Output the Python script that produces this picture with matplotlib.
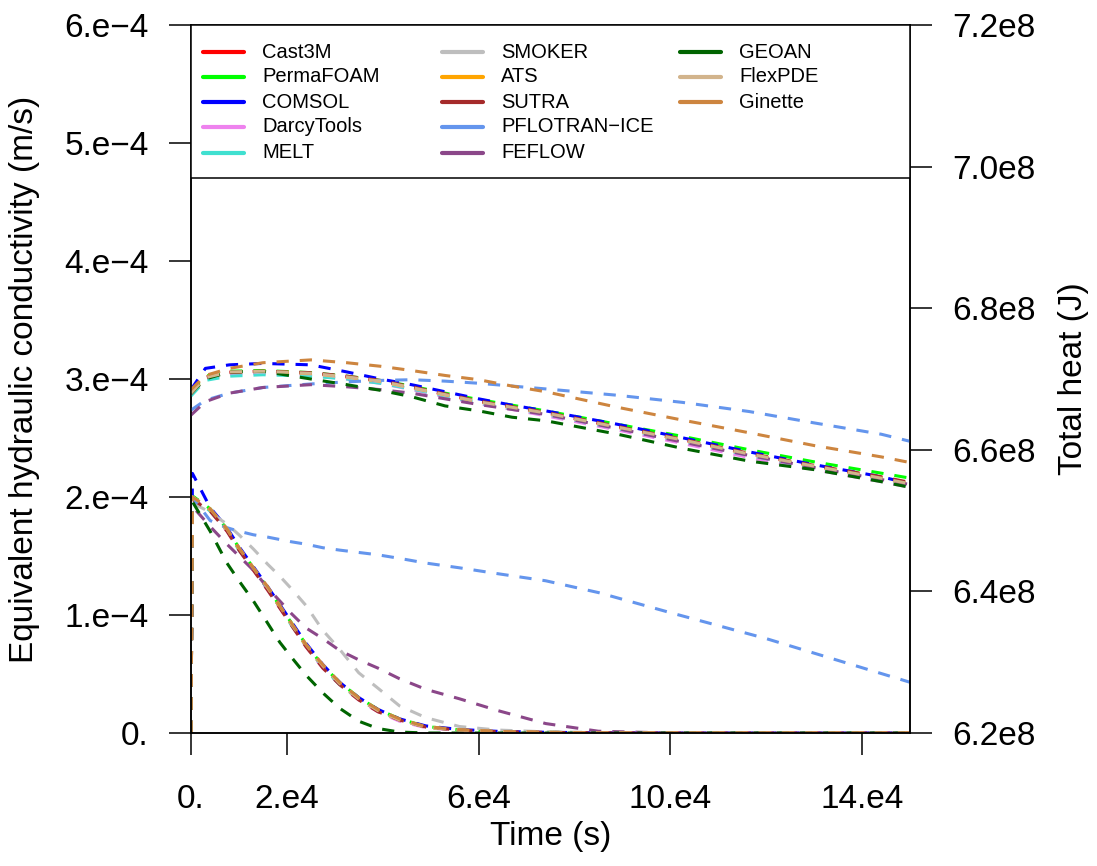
import numpy as np
import matplotlib
matplotlib.use("Agg")
import matplotlib.pyplot as plt
from matplotlib.patches import Rectangle

plt.rcParams['font.family'] = ['Liberation Sans', 'DejaVu Sans']

# model names and colours (legend order: column by column)
models = ["Cast3M", "PermaFOAM", "COMSOL", "DarcyTools", "MELT",
          "SMOKER", "ATS", "SUTRA", "PFLOTRAN\u2212ICE", "FEFLOW",
          "GEOAN", "FlexPDE", "Ginette"]
colors = ["#FF0000", "#00FF00", "#0000FF", "#EE82EE", "#40E0D0",
          "#BEBEBE", "#FFA500", "#A52A2A", "#6495ED", "#8B4789",
          "#006400", "#D2B48C", "#CD853F"]

# time (s) for the hydraulic conductivity curves
t_k = [0, 300, 4000, 7500, 10000, 13000, 16000, 18500, 21000, 24000, 27500,
       31000, 35000, 39000, 43500, 49000, 56000, 64000, 74000, 85000,
       100000, 120000, 150000]
# equivalent hydraulic conductivity (1e-4 m/s)
k_cast3m = [0, 2.00, 1.89, 1.72, 1.56, 1.39, 1.22, 1.07, 0.92, 0.74, 0.56, 0.42, 0.29, 0.19, 0.11, 0.05, 0.025, 0.012, 0.005, 0.002, 0, 0, 0]
k_permafoam = [0, 2.01, 1.90, 1.73, 1.57, 1.40, 1.23, 1.08, 0.93, 0.75, 0.57, 0.43, 0.30, 0.20, 0.12, 0.055, 0.027, 0.013, 0.006, 0.002, 0, 0, 0]
k_comsol = [0, 2.20, 1.91, 1.74, 1.58, 1.41, 1.24, 1.09, 0.94, 0.76, 0.58, 0.43, 0.30, 0.20, 0.12, 0.06, 0.03, 0.014, 0.006, 0.002, 0, 0, 0]
k_darcytools = [0, 1.99, 1.88, 1.71, 1.55, 1.38, 1.21, 1.06, 0.91, 0.73, 0.55, 0.41, 0.28, 0.18, 0.10, 0.045, 0.022, 0.011, 0.004, 0.001, 0, 0, 0]
k_melt = [0, 2.00, 1.88, 1.72, 1.55, 1.39, 1.22, 1.07, 0.91, 0.74, 0.56, 0.41, 0.29, 0.19, 0.11, 0.05, 0.024, 0.011, 0.005, 0.002, 0, 0, 0]
k_smoker = [0, 1.95, 1.87, 1.77, 1.68, 1.56, 1.43, 1.33, 1.22, 1.08, 0.87, 0.71, 0.51, 0.38, 0.23, 0.13, 0.055, 0.025, 0.01, 0.004, 0.001, 0, 0]
k_ats = [0, 2.00, 1.89, 1.72, 1.56, 1.40, 1.23, 1.07, 0.92, 0.74, 0.57, 0.42, 0.29, 0.19, 0.11, 0.05, 0.025, 0.012, 0.005, 0.002, 0, 0, 0]
k_sutra = [0, 1.98, 1.88, 1.71, 1.55, 1.38, 1.21, 1.06, 0.91, 0.73, 0.55, 0.41, 0.28, 0.18, 0.11, 0.05, 0.024, 0.011, 0.005, 0.002, 0, 0, 0]
k_pflotran = [0, 2.00, 1.80, 1.74, 1.71, 1.68, 1.66, 1.64, 1.62, 1.60, 1.57, 1.55, 1.53, 1.51, 1.48, 1.44, 1.40, 1.35, 1.29, 1.19, 1.02, 0.80, 0.43]
k_feflow = [0, 1.92, 1.75, 1.60, 1.50, 1.38, 1.23, 1.12, 1.01, 0.89, 0.80, 0.70, 0.62, 0.55, 0.46, 0.37, 0.29, 0.19, 0.08, 0.015, 0, 0, 0]
k_geoan = [0, 1.96, 1.71, 1.44, 1.29, 1.12, 0.93, 0.77, 0.64, 0.49, 0.34, 0.21, 0.10, 0.038, 0.008, 0, 0, 0, 0, 0, 0, 0, 0]
k_flexpde = [0, 2.00, 1.90, 1.73, 1.57, 1.40, 1.23, 1.08, 0.92, 0.75, 0.57, 0.42, 0.29, 0.19, 0.11, 0.05, 0.025, 0.012, 0.005, 0.002, 0, 0, 0]
k_ginette = [0, 2.00, 1.90, 1.73, 1.57, 1.40, 1.24, 1.08, 0.93, 0.75, 0.58, 0.43, 0.30, 0.20, 0.12, 0.055, 0.028, 0.013, 0.006, 0.002, 0, 0, 0]

# time (s) for the total heat curves
t_h = [0, 3000, 8000, 15000, 25000, 32500, 39500, 46000, 53000, 60000, 67000,
       74000, 89000, 102500, 116500, 130000, 144000, 150000]
# total heat (1e8 J)
h_cast3m = [6.680, 6.703, 6.710, 6.711, 6.708, 6.703, 6.697, 6.688, 6.678, 6.668, 6.660, 6.652, 6.632, 6.614, 6.594, 6.577, 6.561, 6.553]
h_permafoam = [6.682, 6.704, 6.711, 6.712, 6.709, 6.704, 6.698, 6.690, 6.680, 6.671, 6.663, 6.655, 6.636, 6.619, 6.600, 6.583, 6.567, 6.560]
h_comsol = [6.685, 6.715, 6.720, 6.722, 6.720, 6.710, 6.700, 6.692, 6.682, 6.672, 6.663, 6.655, 6.636, 6.617, 6.597, 6.579, 6.562, 6.552]
h_darcytools = [6.678, 6.700, 6.707, 6.708, 6.705, 6.700, 6.694, 6.685, 6.675, 6.665, 6.657, 6.648, 6.628, 6.609, 6.589, 6.572, 6.555, 6.547]
h_melt = [6.676, 6.698, 6.704, 6.706, 6.704, 6.700, 6.694, 6.686, 6.676, 6.666, 6.658, 6.650, 6.630, 6.612, 6.592, 6.575, 6.558, 6.550]
h_smoker = [6.680, 6.702, 6.709, 6.710, 6.707, 6.702, 6.696, 6.687, 6.677, 6.667, 6.659, 6.651, 6.631, 6.613, 6.593, 6.576, 6.559, 6.551]
h_ats = [6.681, 6.703, 6.710, 6.711, 6.708, 6.703, 6.697, 6.688, 6.678, 6.668, 6.660, 6.652, 6.632, 6.614, 6.594, 6.577, 6.560, 6.552]
h_sutra = [6.679, 6.702, 6.709, 6.711, 6.709, 6.704, 6.698, 6.689, 6.679, 6.669, 6.661, 6.653, 6.633, 6.615, 6.595, 6.578, 6.562, 6.554]
h_pflotran = [6.656, 6.670, 6.680, 6.688, 6.693, 6.696, 6.698, 6.699, 6.697, 6.694, 6.690, 6.686, 6.677, 6.667, 6.654, 6.638, 6.622, 6.612]
h_feflow = [6.649, 6.668, 6.680, 6.688, 6.692, 6.689, 6.685, 6.680, 6.672, 6.664, 6.657, 6.650, 6.630, 6.611, 6.592, 6.575, 6.558, 6.551]
h_geoan = [6.680, 6.700, 6.710, 6.711, 6.700, 6.692, 6.684, 6.675, 6.662, 6.655, 6.646, 6.641, 6.622, 6.602, 6.584, 6.572, 6.555, 6.547]
h_flexpde = [6.680, 6.702, 6.710, 6.711, 6.708, 6.703, 6.697, 6.688, 6.678, 6.668, 6.660, 6.652, 6.632, 6.614, 6.594, 6.577, 6.560, 6.552]
h_ginette = [6.685, 6.705, 6.715, 6.723, 6.727, 6.723, 6.718, 6.712, 6.705, 6.699, 6.690, 6.682, 6.660, 6.642, 6.624, 6.606, 6.590, 6.582]

k_series = [k_cast3m, k_permafoam, k_comsol, k_darcytools, k_melt, k_smoker, k_ats,
            k_sutra, k_pflotran, k_feflow, k_geoan, k_flexpde, k_ginette]
h_series = [h_cast3m, h_permafoam, h_comsol, h_darcytools, h_melt, h_smoker, h_ats,
            h_sutra, h_pflotran, h_feflow, h_geoan, h_flexpde, h_ginette]

# axis ticks
xticks = [0, 2e4, 6e4, 10e4, 14e4]
xticklabels = ["0.", "2.e4", "6.e4", "10.e4", "14.e4"]
kticks = [0, 1e-4, 2e-4, 3e-4, 4e-4, 5e-4, 6e-4]
kticklabels = ["0.", "1.e\u22124", "2.e\u22124", "3.e\u22124", "4.e\u22124", "5.e\u22124", "6.e\u22124"]
hticks = [6.2e8, 6.4e8, 6.6e8, 6.8e8, 7.0e8, 7.2e8]
hticklabels = ["6.2e8", "6.4e8", "6.6e8", "6.8e8", "7.0e8", "7.2e8"]

W, H = 1097, 866
fig = plt.figure(figsize=(W / 100, H / 100), dpi=100)
ax = fig.add_axes([191 / W, 133 / H, 719 / W, 708 / H])
ax2 = ax.twinx()

lw = 2.2
dash = (4, 3.6)
for col, k, h in zip(colors, k_series, h_series):
    ax.plot(t_k, np.array(k) * 1e-4, color=col, lw=lw, dashes=dash)
    ax2.plot(t_h, np.array(h) * 1e8, color=col, lw=lw, dashes=dash)

ax.set_xlim(0, 15e4)
ax.set_ylim(0, 6e-4)
ax2.set_ylim(6.2e8, 7.2e8)

fs = 24
ax.set_xticks(xticks)
ax.set_xticklabels(xticklabels, fontsize=fs)
ax.set_yticks(kticks)
ax.set_yticklabels(kticklabels, fontsize=fs)
ax2.set_yticks(hticks)
ax2.set_yticklabels(hticklabels, fontsize=fs)

ax.tick_params(axis='x', direction='out', length=15.5, width=1.1, pad=21)
ax.tick_params(axis='y', direction='out', length=15.5, width=1.1, pad=15)
ax2.tick_params(axis='y', direction='out', length=15.5, width=1.1, pad=15)
for a in (ax, ax2):
    for s in a.spines.values():
        s.set_linewidth(1.1)

ax.set_xlabel("Time (s)", fontsize=fs, va='center')
ax.xaxis.set_label_coords(0.5, -0.146)
ax.set_ylabel("Equivalent hydraulic conductivity (m/s)", fontsize=fs, va='center')
ax.yaxis.set_label_coords(-0.232, 0.5)
ax2.set_ylabel("Total heat (J)", fontsize=fs, va='center')
ax2.yaxis.set_label_coords(1.227, 0.5)

# legend box across the top of the plot
leg_bottom = 1 - 153 / 708
ax2.add_patch(Rectangle((0, leg_bottom), 1, 1 - leg_bottom, transform=ax2.transAxes,
                        facecolor='white', edgecolor='black', lw=1.1, zorder=5))
col_x = [12 / 719, 251 / 719, 489 / 719]
row_y = [1 - 27 / 708, 1 - 52 / 708, 1 - 77 / 708, 1 - 102 / 708, 1 - 128 / 708]
hlen = 41 / 719
txt_off = 59 / 719
for i, (name, col) in enumerate(zip(models, colors)):
    c, r = i // 5, i % 5
    ax2.plot([col_x[c], col_x[c] + hlen], [row_y[r], row_y[r]], color=col, lw=3,
             transform=ax2.transAxes, zorder=6, solid_capstyle='round')
    ax2.text(col_x[c] + txt_off, row_y[r], name, transform=ax2.transAxes,
             fontsize=14.5, va='center', ha='left', zorder=6)

fig.savefig("out.png", dpi=100)
